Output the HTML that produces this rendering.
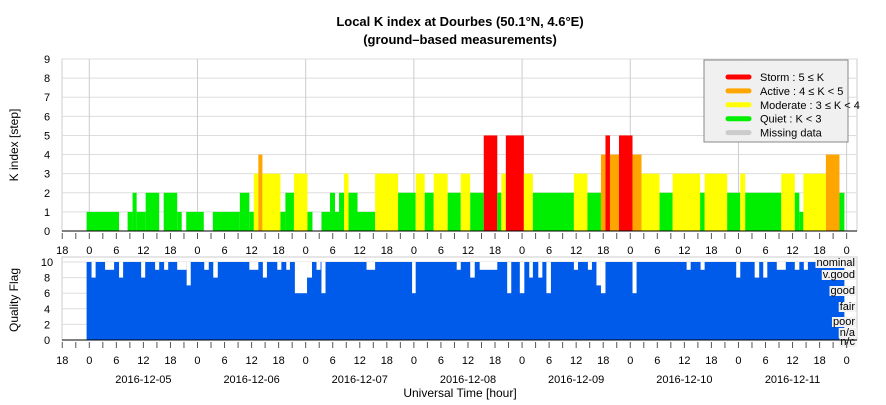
<!DOCTYPE html>
<html><head><meta charset="utf-8"><style>
body{margin:0;background:#fff;}
svg text{font-family:"Liberation Sans",sans-serif;}
</style></head><body>
<svg id="c" width="886" height="400" xmlns="http://www.w3.org/2000/svg">
<text x="460" y="26" text-anchor="middle" font-size="13" font-weight="bold">Local K index at Dourbes (50.1°N, 4.6°E)</text>
<text x="460" y="44" text-anchor="middle" font-size="13" font-weight="bold">(ground–based measurements)</text>
<text transform="translate(18,145) rotate(-90)" text-anchor="middle" font-size="12">K index [step]</text>
<text transform="translate(18,300) rotate(-90)" text-anchor="middle" font-size="12">Quality Flag</text>
<text x="460" y="397" text-anchor="middle" font-size="12">Universal Time [hour]</text>
<g id="top"></g><g id="bot"></g>
</svg>
<script>
// K index segments: start hour, end hour (relative to 2016-12-05 00 UT), K value
const kStart=[-0.6,8.5,9.6,10.5,12.5,16.5,19.5,21.5,27.4,33.4,35.5,36.5,37.5,38.4,42.4,43.5,45.4,48.4,51.5,53.4,54.5,55.4,56.5,57.5,59.5,63.4,68.5,72.4,74.4,76.4,79.5,82.4,84.5,87.5,90.5,91.4,92.4,96.4,98.4,107.5,110.5,113.5,114.5,115.5,117.5,120.5,122.5,126.5,129.4,135.5,136.5,141.5,144.4,145.5,153.5,156.5,157.5,158.4,163.4,166.4];
const kEnd=[6.6,9.6,10.5,12.5,15.5,19.5,20.5,25.4,33.4,35.5,36.5,37.5,38.4,42.4,43.5,45.4,48.4,49.5,53.4,54.5,55.4,56.5,57.5,59.5,63.4,68.5,72.4,74.4,76.4,79.5,82.4,84.5,87.5,90.5,91.4,92.4,96.4,98.4,107.5,110.5,113.5,114.5,115.5,117.5,120.5,122.5,126.5,129.4,135.5,136.5,141.5,144.4,145.5,153.5,156.5,157.5,158.4,163.4,166.4,167.5];
const kVal=[1,1,2,1,2,2,1,1,1,2,1,3,4,3,1,2,3,1,1,2,1,2,3,2,1,3,2,3,2,3,2,3,2,5,2,3,5,3,2,3,2,4,5,4,5,4,3,2,3,2,3,2,3,2,3,2,1,3,4,2];
// Quality flag: full-range data with notches (start, end, reduced value)
const qRange=[-0.6,167.5];
const qStart=[0.5,3.5,6.6,11.5,14.6,16.6,19.5,21.6,25.5,27.5,35.5,38.5,41.7,43.7,45.6,48.3,50.4,51.5,61.5,71.6,81.5,84.5,86.6,92.7,95.5,97.6,99.6,101.4,107.5,110.6,112.5,113.5,120.5,132.5,135.6,143.5,147.6,149.5,152.5,156.5,158.5];
const qEnd=[1.4,5.5,7.5,12.4,15.5,17.5,21.6,22.5,26.5,28.5,37.5,39.4,42.6,44.5,48.3,49.4,51.3,52.4,63.4,72.4,82.4,85.5,90.5,93.6,96.5,98.4,100.5,102.4,108.4,111.5,113.5,114.5,121.4,133.4,136.5,144.4,148.6,150.4,154.5,157.5,159.4];
const qVal=[8,9,8,8,9,9,9,7,9,8,9,8,9,9,6,8,9,6,9,6,9,8,9,6,6,8,8,6,9,9,7,6,6,9,9,8,8,8,9,9,9];
const kTicks=[0,1,2,3,4,5,6,7,8,9];
const qTicks=[0,2,4,6,8,10];
const dayLabels=["2016-12-05","2016-12-06","2016-12-07","2016-12-08","2016-12-09","2016-12-10","2016-12-11"];
const qNames=["nominal","v.good","good","fair","poor","n/a","n/c"];

const NS="http://www.w3.org/2000/svg";
const X0=62,X1=857;
const x=h=>89.3+h*4.508;
const yK=v=>231-v*19.11;
const yQ=v=>340-v*7.8;
function mk(p,t,a){const e=document.createElementNS(NS,t);for(const k in a)e.setAttribute(k,a[k]);p.appendChild(e);return e;}
const gTop=document.getElementById('top'),gBot=document.getElementById('bot');
function col(k){return k>=5?'#ff0000':k>=4?'#ffa500':k>=3?'#ffff00':'#00ee00';}

mk(gTop,'rect',{x:X0,y:yK(9),width:X1-X0,height:yK(0)-yK(9),fill:'#fff',stroke:'#ccc'});
kTicks.forEach(v=>{
  const l=mk(gTop,'line',{x1:X0,x2:X1,y1:yK(v),y2:yK(v),stroke:'#ddd'});
  
  
  const t=mk(gTop,'text',{x:47,y:yK(v)+4,'text-anchor':'middle','font-size':11});
  t.textContent=v;
  
  
});
for(let d=0;d<8;d++){mk(gTop,'line',{x1:x(d*24),x2:x(d*24),y1:yK(9),y2:yK(0),stroke:'#ccc'});}
kVal.forEach((v,i)=>{
  const r=mk(gTop,'rect',{x:x(kStart[i]),width:x(kEnd[i])-x(kStart[i]),y:yK(v),height:yK(0)-yK(v),fill:col(v)});
  
  
});
mk(gTop,'line',{x1:X0,x2:X1,y1:yK(0),y2:yK(0),stroke:'#000'});
for(let h=-6;h<=168;h+=3){
  const xx=x(h);if(xx<X0||xx>X1)continue;
  mk(gTop,'line',{x1:xx,x2:xx,y1:233,y2:239,stroke:'#555'});
  if(h%6===0){const t=mk(gTop,'text',{x:xx,y:254,'text-anchor':'middle','font-size':11});t.textContent=((h%24)+24)%24;
  
  }
}
const lg=mk(gTop,'g',{});


mk(lg,'rect',{x:704,y:60,width:144,height:82,fill:'#f0f0f0',stroke:'#888'});
const lgT=["Storm : 5 ≤ K","Active : 4 ≤ K < 5","Moderate : 3 ≤ K < 4","Quiet : K < 3","Missing data"];
const lgC=['#ff0000','#ffa500','#ffff00','#00ee00','#ccc'];
lgT.forEach((s,i)=>{const y=77+i*13.9;
  const l=mk(lg,'line',{x1:728,x2:749,y1:y,y2:y,stroke:lgC[i],'stroke-width':5,'stroke-linecap':'round'});
  
  
  const t=mk(lg,'text',{x:760,y:y+4,'font-size':11});t.textContent=s;
  
  });

mk(gBot,'rect',{x:X0,y:257,width:X1-X0,height:83,fill:'#fff',stroke:'#ccc'});
qTicks.forEach(v=>{mk(gBot,'line',{x1:X0,x2:X1,y1:yQ(v),y2:yQ(v),stroke:'#ddd'});
  const t=mk(gBot,'text',{x:47,y:yQ(v)+4,'text-anchor':'middle','font-size':11});t.textContent=v;
  
  });
const qa=mk(gBot,'rect',{x:x(qRange[0]),width:x(qRange[1])-x(qRange[0]),y:yQ(10),height:yQ(0)-yQ(10),fill:'#005bea'});


qVal.forEach((v,i)=>{const r=mk(gBot,'rect',{x:x(qStart[i]),width:x(qEnd[i])-x(qStart[i]),y:yQ(10),height:yQ(v)-yQ(10),fill:'#fff'});
  
  });
const qy=[262,274,290,306,321,332,341];
qNames.forEach((s,i)=>{const t=mk(gBot,'text',{x:855,y:qy[i]+4,'text-anchor':'end','font-size':11});t.textContent=s;
  
  
  const b=t.getBBox();const r=document.createElementNS(NS,'rect');
  r.setAttribute('x',b.x-1);r.setAttribute('y',b.y+1);r.setAttribute('width',b.width+2);r.setAttribute('height',b.height-2);r.setAttribute('fill','#f2f2f2');
  gBot.insertBefore(r,t);});
mk(gBot,'line',{x1:X0,x2:X1,y1:340,y2:340,stroke:'#000'});
for(let h=-6;h<=168;h+=3){
  const xx=x(h);if(xx<X0||xx>X1)continue;
  mk(gBot,'line',{x1:xx,x2:xx,y1:342,y2:348,stroke:'#555'});
  if(h%6===0){const t=mk(gBot,'text',{x:xx,y:364,'text-anchor':'middle','font-size':11});t.textContent=((h%24)+24)%24;
  
  }
}
dayLabels.forEach((s,i)=>{const t=mk(gBot,'text',{x:x(i*24+12),y:383,'text-anchor':'middle','font-size':11});t.textContent=s;
  
  });
</script>
</body></html>
